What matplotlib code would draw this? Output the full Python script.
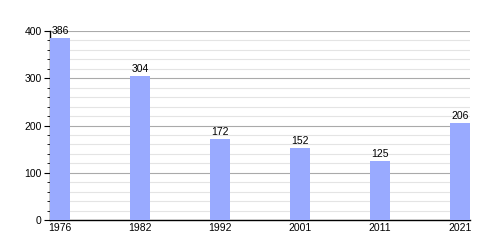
import matplotlib
matplotlib.use('Agg')
import matplotlib.pyplot as plt
import numpy as np

years = ['1976', '1982', '1992', '2001', '2011', '2021']
population = [386, 304, 172, 152, 125, 206]

plt.rcParams['font.family'] = ['Liberation Sans', 'DejaVu Sans']

fig = plt.figure(figsize=(5, 2.5), dpi=100)
ax = fig.add_axes([0.1, 0.12, 0.84, 0.756])

x = np.arange(len(years))
ax.bar(x, population, width=0.25, color='#99aaff', zorder=3)
for xi, v in zip(x, population):
    ax.text(xi, v + 4, str(v), ha='center', va='bottom', fontsize=7.5, zorder=4)

ax.set_xlim(-0.125, len(years) - 1 + 0.125)
ax.set_ylim(0, 400)
ax.set_xticks(x)
ax.set_xticklabels(years)
ax.set_yticks([0, 100, 200, 300, 400])
ax.set_yticks(np.arange(0, 401, 20), minor=True)
ax.grid(axis='y', which='major', color='#aaaaaa', linewidth=0.8, zorder=0)
ax.grid(axis='y', which='minor', color='#e4e4e4', linewidth=0.8, zorder=0)
ax.tick_params(axis='x', length=0, labelsize=7.5, pad=2)
ax.tick_params(axis='y', which='major', length=4, labelsize=7.5, pad=2)
ax.tick_params(axis='y', which='minor', length=2)

for s in ['top', 'right']:
    ax.spines[s].set_visible(False)
ax.spines['left'].set_linewidth(1)
ax.spines['bottom'].set_linewidth(1)

fig.savefig('out.png', dpi=100)
